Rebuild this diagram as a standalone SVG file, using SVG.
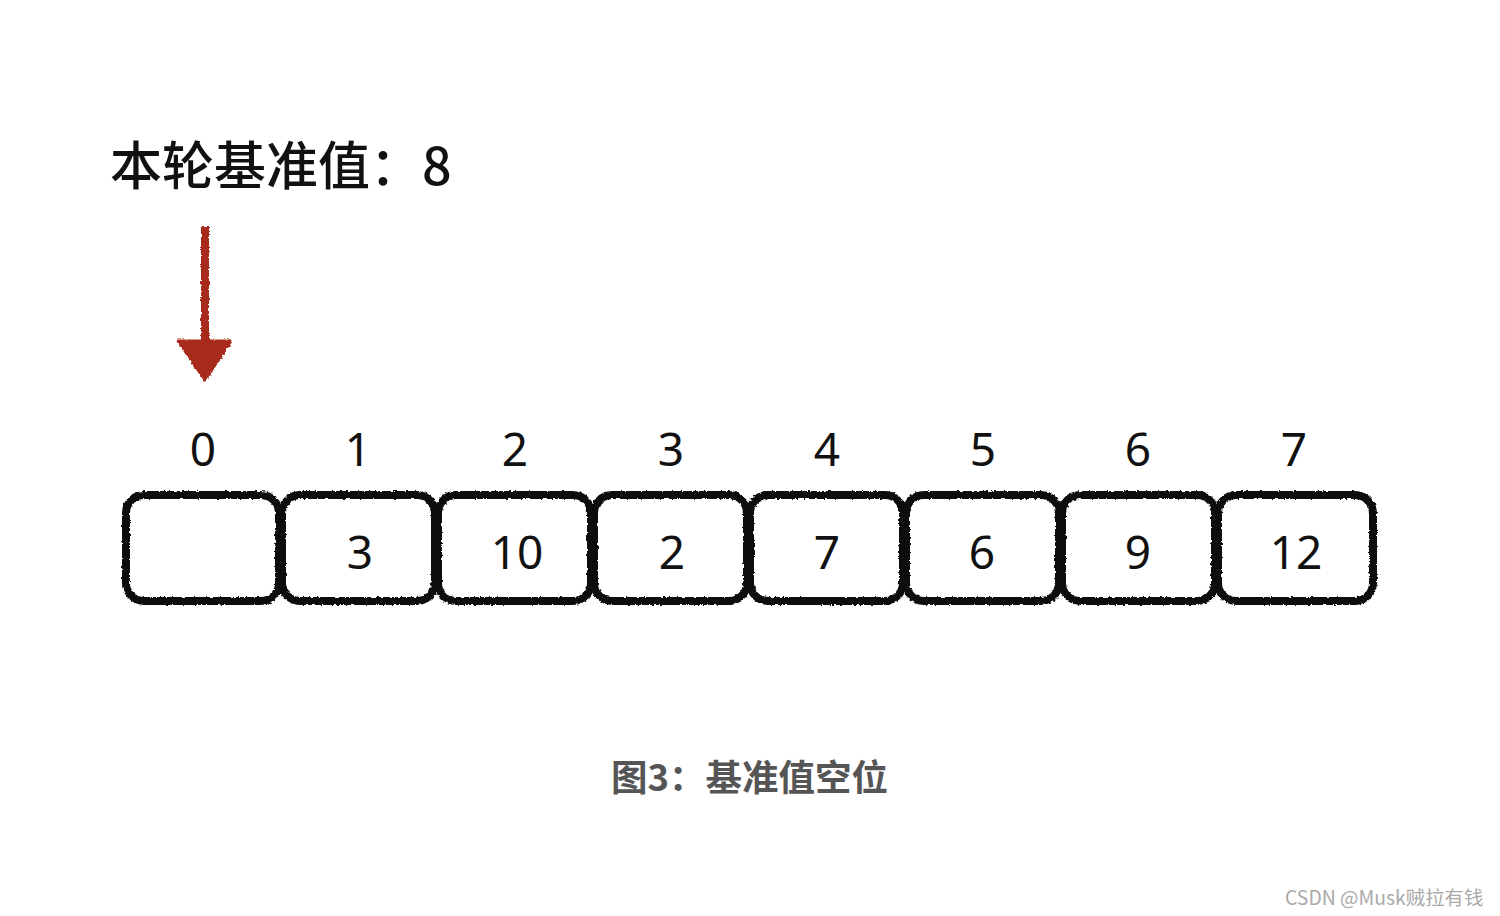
<svg xmlns="http://www.w3.org/2000/svg" width="1500" height="916" viewBox="0 0 1500 916">
<defs>
<filter id="rough" filterUnits="userSpaceOnUse" x="0" y="0" width="1500" height="916">
<feTurbulence type="fractalNoise" baseFrequency="0.35" numOctaves="2" seed="3" result="n"/>
<feDisplacementMap in="SourceGraphic" in2="n" scale="3.5" xChannelSelector="R" yChannelSelector="G"/>
</filter>
<style>
.box{fill:#fff;stroke:#111;stroke-width:8;filter:url(#rough)}
.idx{font-family:"Noto Sans","Liberation Sans",sans-serif;font-size:46px;fill:#111;text-anchor:middle}
.val{font-family:"Noto Sans","Liberation Sans",sans-serif;font-size:46px;fill:#111;text-anchor:middle}
.title{font-family:"Noto Sans CJK SC",sans-serif;font-size:52px;font-weight:500;fill:#111}
.cap{font-family:"Noto Sans CJK SC",sans-serif;font-size:36.5px;font-weight:bold;fill:#555}
.wm{font-family:"Noto Sans CJK SC",sans-serif;font-size:19.4px;fill:#aaa}
.arrow{fill:#a82a1a;filter:url(#rough)}
</style>
</defs>
<rect width="1500" height="916" fill="#fff"/>
<g id="title"><text class="title" x="110" y="185">本轮基准值：8</text></g>
<g id="connectors">
<rect class="arrow" x="201" y="226" width="8" height="120"/>
<polygon class="arrow" stroke="#a82a1a" stroke-width="3" stroke-linejoin="round" points="178,341 231,341 205,380"/>
</g>
<g id="cell0"><rect class="box" x="126" y="495" width="153" height="106" rx="18"/><text class="idx" x="203" y="466">0</text></g>
<g id="cell1"><rect class="box" x="282" y="495" width="153" height="106" rx="18"/><text class="idx" x="358" y="466">1</text><text class="val" x="360" y="569">3</text></g>
<g id="cell2"><rect class="box" x="438" y="495" width="153" height="106" rx="18"/><text class="idx" x="515" y="466">2</text><text class="val" x="517" y="569">10</text></g>
<g id="cell3"><rect class="box" x="594" y="495" width="153" height="106" rx="18"/><text class="idx" x="671" y="466">3</text><text class="val" x="672" y="569">2</text></g>
<g id="cell4"><rect class="box" x="750" y="495" width="153" height="106" rx="18"/><text class="idx" x="827" y="466">4</text><text class="val" x="827" y="569">7</text></g>
<g id="cell5"><rect class="box" x="906" y="495" width="153" height="106" rx="18"/><text class="idx" x="983" y="466">5</text><text class="val" x="982" y="569">6</text></g>
<g id="cell6"><rect class="box" x="1062" y="495" width="153" height="106" rx="18"/><text class="idx" x="1138" y="466">6</text><text class="val" x="1138" y="569">9</text></g>
<g id="cell7"><rect class="box" x="1218" y="495" width="155" height="106" rx="18"/><text class="idx" x="1294" y="466">7</text><text class="val" x="1296" y="569">12</text></g>
<g id="caption"><text class="cap" x="611" y="791">图3：基准值空位</text></g>
<g id="watermark"><text class="wm" x="1285" y="905">CSDN @Musk贼拉有钱</text></g>
</svg>
